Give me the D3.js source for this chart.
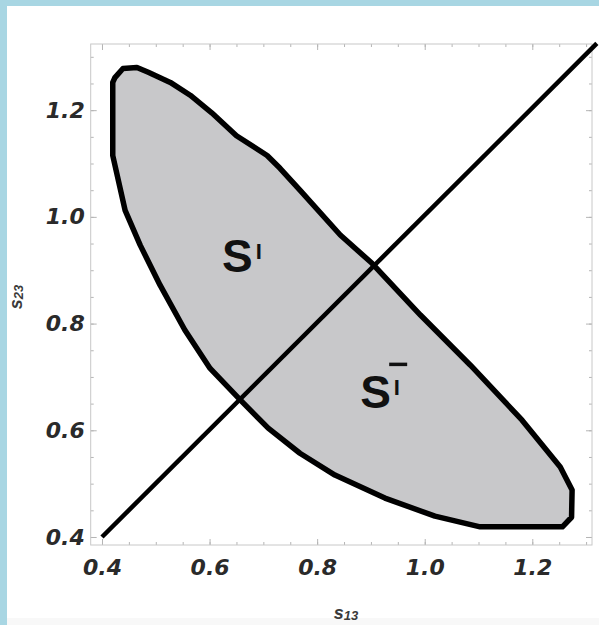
<!DOCTYPE html>
<html>
<head>
<meta charset="utf-8">
<script src="https://cdn.jsdelivr.net/npm/d3@7"></script>
<style>
  html, body { margin: 0; padding: 0; background: #ffffff; }
  svg { display: block; }
</style>
</head>
<body>
<div id="chart"></div>
<script>
// Boundary of the allowed region in the (s13, s23) plane, traced clockwise
const regionS13 = [0.420, 0.420, 0.424, 0.439, 0.465, 0.486, 0.527, 0.564, 0.604, 0.650,
  0.707, 0.731, 0.768, 0.843, 0.902, 0.992, 1.085, 1.181, 1.252, 1.274,
  1.273, 1.256, 1.103, 1.019, 0.926, 0.833, 0.768, 0.709, 0.657, 0.601,
  0.554, 0.508, 0.471, 0.443];
const regionS23 = [1.115, 1.252, 1.261, 1.278, 1.280, 1.271, 1.252, 1.228, 1.195, 1.152,
  1.115, 1.091, 1.050, 0.966, 0.913, 0.816, 0.722, 0.619, 0.531, 0.488,
  0.437, 0.419, 0.419, 0.439, 0.473, 0.516, 0.557, 0.604, 0.657, 0.716,
  0.788, 0.872, 0.947, 1.012];

// Diagonal s13 = s23 separating the two subregions
const diagonalS13 = [0.40, 1.32];
const diagonalS23 = [0.40, 1.325];

// Tick values
const majorTicks = [0.4, 0.6, 0.8, 1.0, 1.2];
const minorTicks = [0.40, 0.45, 0.50, 0.55, 0.60, 0.65, 0.70, 0.75, 0.80, 0.85, 0.90,
  0.95, 1.00, 1.05, 1.10, 1.15, 1.20, 1.25, 1.30];

// Region labels (anchor in data coordinates)
const regionLabels = [
  { base: "S", sup: "I", bar: false, s13: 0.623, s23: 0.897 },
  { base: "S", sup: "I", bar: true,  s13: 0.880, s23: 0.642 }
];

const W = 599, H = 625;
const svg = d3.select("#chart").append("svg").attr("width", W).attr("height", H);

// page frame
svg.append("rect").attr("width", W).attr("height", H).attr("fill", "#a8d6e3");
svg.append("rect").attr("x", 7).attr("y", 6).attr("width", W - 7).attr("height", H - 6).attr("fill", "#ffffff");
svg.append("rect").attr("x", 7).attr("y", 618).attr("width", W - 7).attr("height", H - 618).attr("fill", "#f8f8f8");

const x = d3.scaleLinear().domain([0.379, 1.311]).range([90.7, 592]);
const y = d3.scaleLinear().domain([0.385, 1.324]).range([545, 44]);

const fmt = d3.format(".1f");
const tickFont = "'DejaVu Sans', Verdana, sans-serif";

function styleAxis(g, labels) {
  g.select(".domain").remove();
  g.selectAll(".tick line").attr("stroke", "#b5b5b5").attr("stroke-width", 1);
  if (labels) {
    g.selectAll(".tick text")
      .attr("fill", "#2a2a2a")
      .attr("font-family", tickFont)
      .attr("font-size", 22)
      .attr("font-weight", "bold")
      .attr("font-style", "italic");
  } else {
    g.selectAll(".tick text").remove();
  }
}

// minor ticks on all four sides
svg.append("g").attr("transform", `translate(0,${y.range()[0]})`)
  .call(d3.axisBottom(x).tickValues(minorTicks).tickSize(-3).tickFormat(""))
  .call(g => styleAxis(g, false));
svg.append("g").attr("transform", `translate(0,${y.range()[1]})`)
  .call(d3.axisTop(x).tickValues(minorTicks).tickSize(-3).tickFormat(""))
  .call(g => styleAxis(g, false));
svg.append("g").attr("transform", `translate(${x.range()[0]},0)`)
  .call(d3.axisLeft(y).tickValues(minorTicks).tickSize(-3).tickFormat(""))
  .call(g => styleAxis(g, false));
svg.append("g").attr("transform", `translate(${x.range()[1]},0)`)
  .call(d3.axisRight(y).tickValues(minorTicks).tickSize(-3).tickFormat(""))
  .call(g => styleAxis(g, false));

// major ticks with labels on bottom and left
svg.append("g").attr("transform", `translate(0,${y.range()[0]})`)
  .call(d3.axisBottom(x).tickValues(majorTicks).tickSize(-6).tickPadding(14).tickFormat(fmt))
  .call(g => styleAxis(g, true));
svg.append("g").attr("transform", `translate(${x.range()[0]},0)`)
  .call(d3.axisLeft(y).tickValues(majorTicks).tickSize(-6).tickPadding(6).tickFormat(fmt))
  .call(g => styleAxis(g, true));
svg.append("g").attr("transform", `translate(0,${y.range()[1]})`)
  .call(d3.axisTop(x).tickValues(majorTicks).tickSize(-6).tickFormat(""))
  .call(g => styleAxis(g, false));
svg.append("g").attr("transform", `translate(${x.range()[1]},0)`)
  .call(d3.axisRight(y).tickValues(majorTicks).tickSize(-6).tickFormat(""))
  .call(g => styleAxis(g, false));

// plot frame
svg.append("rect")
  .attr("x", x.range()[0]).attr("y", y.range()[1])
  .attr("width", x.range()[1] - x.range()[0])
  .attr("height", y.range()[0] - y.range()[1])
  .attr("fill", "none").attr("stroke", "#c8c8c8").attr("stroke-width", 1);

// region
const region = regionS13.map((v, i) => [v, regionS23[i]]);
const line = d3.line().x(d => x(d[0])).y(d => y(d[1])).curve(d3.curveLinearClosed);
svg.append("path")
  .attr("d", line(region))
  .attr("fill", "#c8c8ca")
  .attr("stroke", "#000")
  .attr("stroke-width", 5.5)
  .attr("stroke-linejoin", "round");

// diagonal
const diag = diagonalS13.map((v, i) => [v, diagonalS23[i]]);
svg.append("path")
  .attr("d", d3.line().x(d => x(d[0])).y(d => y(d[1]))(diag))
  .attr("fill", "none")
  .attr("stroke", "#000")
  .attr("stroke-width", 4.5);

// region labels
const labelFont = "'Liberation Sans', Arial, Helvetica, sans-serif";
regionLabels.forEach(l => {
  const px = x(l.s13), py = y(l.s23);
  const t = svg.append("text")
    .attr("x", px).attr("y", py)
    .attr("font-family", labelFont)
    .attr("font-weight", "bold")
    .attr("fill", "#111");
  t.append("tspan").attr("font-size", 46).text(l.base);
  t.append("tspan").attr("font-size", 22).attr("dx", 3).attr("dy", -13).text(l.sup);
  if (l.bar) {
    svg.append("line")
      .attr("x1", px + 29).attr("x2", px + 47)
      .attr("y1", py - 43.5).attr("y2", py - 43.5)
      .attr("stroke", "#111").attr("stroke-width", 3.5);
  }
});

// axis titles
function axisTitle(sel, main, sub) {
  sel.attr("font-family", labelFont).attr("font-weight", "bold").attr("font-style", "italic")
    .attr("fill", "#3a3a3a");
  sel.append("tspan").attr("font-size", 18).text(main);
  sel.append("tspan").attr("font-size", 13).attr("dy", 1).text(sub);
}
svg.append("text")
  .attr("x", 346).attr("y", 619)
  .attr("text-anchor", "middle")
  .call(sel => axisTitle(sel, "s", "13"));
svg.append("text")
  .attr("transform", `translate(22,297) rotate(-90)`)
  .attr("text-anchor", "middle")
  .call(sel => axisTitle(sel, "s", "23"));
</script>
</body>
</html>
